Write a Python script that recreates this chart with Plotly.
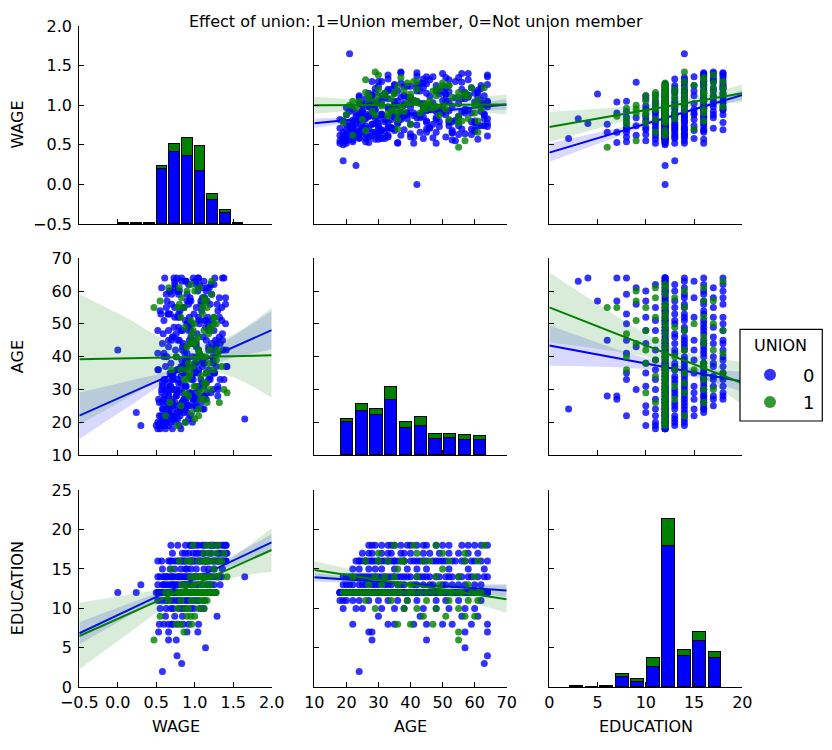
import plotly.graph_objects as go

# ---------------- data ----------------
VARS = ["WAGE", "AGE", "EDUCATION"]
TITLE = "Effect of union: 1=Union member, 0=Not union member"
LEGEND_TITLE = "UNION"
HUE_LABELS = ["0", "1"]

# Non-union members (UNION = 0), grouped by education level
EDU_0 = [2, 3, 4, 5, 6, 6, 7, 7, 7, 7, 8, 8, 8, 8, 8, 8, 9, 9, 9, 9,
         10, 10, 10, 10, 10, 10, 10, 11, 11, 11, 11, 11, 11, 11, 11, 11, 11,
         12, 12, 12, 12, 12, 12, 12, 12, 12, 12, 12, 12, 12, 12, 12, 12, 12, 12, 12, 12,
         12, 12, 12, 12, 12, 12, 12, 12, 12, 12, 12, 12, 12, 12, 12, 12, 12, 12, 12, 12,
         12, 12, 12, 12, 12, 12, 12, 12, 12, 12, 12, 12, 12, 12, 12, 12, 12, 12, 12, 12,
         12, 12, 12, 12, 12, 12, 12, 12, 12, 12, 12, 12, 12, 12, 12, 12, 12, 12, 12, 12,
         12, 12, 12, 12, 12, 12, 12, 12, 12, 12, 12, 12, 12, 12, 12,
         13, 13, 13, 13, 13, 13, 13, 13, 13, 13, 13, 13, 13, 13, 13, 13, 13, 13,
         14, 14, 14, 14, 14, 14, 14, 14, 14, 14, 14, 14, 14, 14, 14, 14, 14, 14, 14, 14, 14, 14, 14, 14,
         15, 15, 15, 15, 15, 15, 15, 15,
         16, 16, 16, 16, 16, 16, 16, 16, 16, 16, 16, 16, 16, 16, 16, 16, 16, 16, 16, 16,
         16, 16, 16, 16, 16, 16, 16, 16,
         17, 17, 17, 17, 17, 17, 17, 17, 17, 17,
         18, 18, 18, 18, 18, 18, 18, 18, 18, 18, 18, 18, 18, 18,
         8, 8, 8, 10, 10, 10, 10, 11, 11, 11, 11, 11,
         12, 12, 12, 12, 12, 12, 12, 12, 12, 12, 12, 12, 12, 12, 12, 12, 12, 12, 12, 12,
         12, 12, 12, 12, 12, 12, 12, 12, 12, 12, 12, 12, 12, 12, 12, 12, 12, 12, 12, 12,
         12, 12, 12, 12, 12, 12, 12, 12, 12, 12, 12, 12, 12, 12, 12,
         13, 13, 13, 13, 13, 13, 13, 13, 13, 13,
         14, 14, 14, 14, 14, 14, 14, 14, 14, 14, 14, 14, 14, 14, 14,
         15, 15, 15, 15,
         16, 16, 16, 16, 16, 16, 16, 16, 16, 16, 16, 16, 16, 16,
         17, 17, 17, 17, 17, 17,
         18, 18, 18, 18, 18, 18, 18]
AGE_0 = [24, 63, 64, 57, 45, 28, 27, 28, 57, 64, 22, 33, 35, 45, 53, 64, 30, 43, 56, 61,
         19, 25, 31, 38, 44, 52, 60, 18, 19, 22, 27, 33, 36, 42, 48, 55, 62,
         18, 18, 18, 19, 19, 19, 20, 20, 20, 20, 21, 21, 21, 22, 22, 22, 22, 23, 23, 23,
         23, 24, 24, 24, 24, 25, 25, 25, 26, 26, 26, 27, 27, 27, 28, 28, 28, 29, 29, 30,
         30, 30, 31, 31, 32, 32, 33, 33, 34, 34, 35, 35, 36, 36, 37, 37, 38, 38, 39, 40,
         40, 41, 42, 42, 43, 43, 44, 45, 45, 46, 47, 48, 48, 49, 50, 51, 51, 52, 53, 54,
         54, 55, 56, 57, 58, 59, 60, 60, 61, 62, 63, 63, 64, 64, 64,
         19, 20, 22, 24, 26, 28, 30, 32, 34, 36, 38, 41, 44, 47, 50, 53, 57, 62,
         21, 20, 22, 23, 25, 26, 28, 29, 31, 33, 34, 36, 38, 40, 42, 44, 46, 48, 51, 53, 56, 59, 61, 64,
         24, 27, 31, 35, 39, 45, 52, 58,
         23, 24, 25, 26, 27, 28, 29, 30, 31, 32, 33, 34, 35, 36, 37, 38, 40, 41, 43, 45,
         47, 49, 51, 54, 57, 59, 62, 64,
         25, 28, 31, 34, 37, 40, 44, 49, 55, 61,
         27, 29, 31, 33, 35, 37, 39, 42, 45, 48, 52, 56, 60, 64,
         41, 50, 59, 23, 35, 48, 57, 20, 24, 30, 39, 51,
         18, 19, 20, 21, 22, 23, 24, 25, 26, 27, 28, 29, 30, 31, 32, 33, 34, 35, 36, 37,
         38, 39, 40, 41, 42, 43, 44, 45, 46, 47, 48, 49, 50, 51, 52, 53, 54, 55, 56, 57,
         58, 59, 60, 61, 62, 63, 64, 20, 22, 24, 26, 29, 33, 37, 44,
         21, 25, 29, 33, 37, 42, 46, 51, 55, 60,
         19, 24, 27, 30, 32, 35, 37, 39, 43, 45, 49, 52, 55, 58, 63,
         22, 29, 42, 63,
         24, 26, 28, 30, 33, 35, 38, 42, 44, 48, 50, 53, 56, 60,
         27, 33, 38, 46, 52, 58,
         28, 34, 40, 44, 50, 58, 62]
WAGE_0 = [0.58, 0.83, 0.77, 1.14, 0.66, 0.76, 0.53, 0.66, 0.90, 1.04,
          0.54, 0.72, 0.85, 0.78, 0.66, 1.05, 0.62, 0.84, 1.29, 0.74,
          0.55, 0.72, 0.88, 1.12, 0.95, 0.80, 0.69,
          0.52, 0.61, 0.70, 0.86, 0.98, 0.78, 1.05, 0.92, 0.74, 1.02,
          0.55, 0.62, 0.71, 0.58, 0.66, 0.80, 0.52, 0.69, 0.75, 0.88,
          0.60, 0.73, 0.92, 0.56, 0.68, 0.81, 0.95, 0.24, 0.63, 0.77,
          0.90, 0.59, 0.72, 0.85, 1.02, 0.66, 0.79, 0.94, 0.54, 0.83,
          1.08, 0.70, 0.87, 0.99, 0.61, 0.76, 1.12, 0.84, 0.93, 0.57,
          0.74, 1.05, 0.68, 0.89, 0.79, 1.15, 0.62, 0.96, 0.72, 1.20,
          0.86, 1.01, 0.53, 0.77, 0.91, 1.10, 0.69, 1.24, 0.83, 0.97,
          0.64, 1.06, 0.00, 0.75, 0.88, 1.18, 0.58, 0.93, 1.27, 0.71,
          1.03, 0.82, 0.66, 1.14, 0.90, 0.60, 1.22, 0.78, 0.99, 0.55,
          1.09, 0.85, 0.70, 1.16, 0.94, 0.63, 1.04, 0.80, 0.57, 0.92,
          1.12, 0.74, 0.61, 0.98, 1.26,
          0.30, 0.62, 0.74, 0.85, 0.58, 0.97, 0.70, 1.10, 0.82, 0.52, 1.02, 0.90, 1.33, 0.76,
          1.18, 0.65, 0.95, 1.21,
          1.65, 0.55, 0.68, 0.80, 0.92, 0.63, 1.05, 0.77, 0.88, 1.20, 0.71, 0.99, 1.12, 0.60,
          0.84, 1.28, 0.95, 0.52, 1.35, 0.79, 1.08, 0.90, 1.16, 0.73,
          0.82, 1.02, 0.58, 1.25, 0.90, 1.36, 0.74, 1.12,
          0.66, 0.88, 1.02, 0.74, 1.15, 0.92, 0.57, 1.24, 1.05, 0.82, 1.33, 0.96, 0.70, 1.18,
          1.41, 0.87, 1.09, 0.52, 1.27, 0.98, 1.36, 0.79, 1.14, 1.30, 0.93, 1.22, 1.06, 1.38,
          0.84, 1.12, 1.30, 0.71, 1.42, 1.02, 1.22, 0.92, 1.35, 1.10,
          0.98, 1.21, 0.69, 1.38, 1.05, 1.28, 0.88, 1.41, 1.15, 0.95, 1.32, 1.20, 0.78, 1.36,
          0.60, 0.92, 0.70, 0.63, 0.99, 0.84, 1.08, 0.57, 0.81, 0.65, 0.90, 1.13,
          0.82, 0.50, 0.63, 0.78, 0.61, 0.86, 0.67, 1.00, 0.71, 0.60,
          0.95, 0.66, 0.82, 1.12, 0.58, 0.78, 0.93, 0.68, 1.05, 0.62,
          0.89, 1.10, 0.76, 0.87, 1.21, 0.66, 1.00, 0.80, 1.11, 0.59,
          1.25, 0.73, 1.06, 0.88, 1.17, 0.56, 0.81, 1.02, 0.92, 0.64,
          1.13, 0.79, 0.67, 1.19, 0.74, 0.89, 0.83, 0.97, 0.74, 0.64,
          0.89, 1.01, 0.71, 0.84, 1.00,
          0.68, 0.90, 1.16, 0.60, 0.88, 1.25, 0.72, 1.05, 0.86, 0.78,
          0.60, 1.10, 0.86, 1.30, 0.65, 1.15, 0.82, 1.24, 1.02, 0.70, 1.18, 0.93, 0.63, 1.32, 1.00,
          0.68, 0.95, 1.18, 0.88,
          1.12, 0.84, 1.30, 0.77, 1.08, 1.26, 1.00, 1.37, 0.85, 1.18, 0.96, 0.68, 1.40, 1.15,
          0.98, 1.18, 0.88, 1.32, 1.05, 1.40,
          1.12, 0.94, 1.24, 1.02, 1.40, 1.10, 1.25]

# Union members (UNION = 1)
EDU_1 = [6, 7, 8, 8, 9, 9, 9, 10, 10, 10, 11, 11, 11, 11, 11,
         12, 12, 12, 12, 12, 12, 12, 12, 12, 12, 12, 12, 12, 12, 12, 12, 12, 12, 12, 12, 12, 12,
         13, 13, 13, 14, 14, 14, 14, 14, 15, 15, 16, 16, 16, 16, 16, 16, 17, 17, 17, 18, 18, 18,
         8, 9, 10, 10, 11, 11, 12, 12, 12, 12, 12, 12, 12, 12, 12, 12, 12, 12,
         13, 13, 13, 14, 14, 14, 16, 16, 16, 16, 17, 18]
AGE_1 = [55, 55, 47, 36, 44, 57, 60, 42, 38, 55, 26, 34, 45, 52, 61,
         19, 20, 22, 23, 24, 25, 27, 28, 30, 31, 33, 35, 37, 39, 41, 43, 47, 50, 53, 56, 59, 62,
         31, 40, 58, 22, 29, 35, 48, 55, 36, 50, 26, 33, 38, 46, 52, 61, 30, 42, 57, 35, 48, 63,
         40, 51, 29, 48, 39, 58, 21, 26, 29, 32, 34, 36, 40, 45, 49, 52, 55, 61,
         27, 36, 49, 32, 42, 60, 30, 37, 44, 57, 50, 41]
WAGE_1 = [0.47, 0.86, 0.96, 0.82, 1.00, 0.55, 0.90, 1.05, 0.92, 0.78,
          1.16, 1.08, 0.95, 0.82, 0.66,
          0.78, 0.88, 0.62, 0.96, 1.05, 0.82, 1.12, 0.92, 1.20, 1.01, 0.86, 1.15, 0.97, 1.28,
          1.06, 0.90, 1.18, 0.99, 1.10, 0.80, 1.22, 0.95,
          0.99, 1.14, 0.83, 1.05, 1.42, 0.94, 1.21, 1.10, 0.70, 1.25,
          1.32, 0.90, 1.18, 1.05, 1.25, 0.80, 1.38, 1.20, 1.12, 1.15, 0.98, 1.22,
          0.76, 0.95, 0.88, 1.12, 1.02, 1.12,
          1.00, 0.68, 1.06, 1.12, 0.93, 1.24, 1.10, 1.02, 0.87, 1.25, 1.16, 1.06,
          1.08, 0.90, 1.20, 1.15, 1.30, 1.00, 1.12, 1.35, 0.95, 1.15, 1.28, 1.30]

# Diagonal histograms (stacked counts)
WAGE_BIN_START, WAGE_BIN_WIDTH = 0.0, 0.165
WAGE_HIST_0 = [1, 1, 1, 84, 109, 103, 81, 36, 16, 2]
WAGE_HIST_1 = [0, 0, 0, 4, 12, 28, 37, 10, 5, 0]
AGE_BIN_START, AGE_BIN_WIDTH = 18.0, 4.6
AGE_HIST_0 = [50, 66, 60, 83, 41, 44, 24, 26, 23, 22]
AGE_HIST_1 = [4, 11, 10, 21, 9, 14, 8, 6, 7, 6]
EDU_BIN_START, EDU_BIN_WIDTH = 2.0, 1.6
EDU_HIST_0 = [2, 1, 2, 16, 8, 31, 215, 47, 71, 44]
EDU_HIST_1 = [0, 0, 0, 4, 5, 13, 41, 9, 13, 10]
HIST_MAX_COUNT = 300

# Regression lines (value at left / right axis limit) and confidence bands
BAND_X_WAGE = [-0.5, 0.125, 0.75, 1.375, 2.0]
BAND_X_AGE = [10, 25, 40, 55, 70]
BAND_X_EDU = [0, 5, 10, 15, 20]

WAGE_AGE_LINE_0 = [0.771, 1.010]
WAGE_AGE_LO_0 = [0.711, 0.801, 0.870, 0.912, 0.942]
WAGE_AGE_HI_0 = [0.831, 0.861, 0.910, 0.988, 1.078]
WAGE_AGE_LINE_1 = [1.000, 1.010]
WAGE_AGE_LO_1 = [0.893, 0.940, 0.964, 0.933, 0.885]
WAGE_AGE_HI_1 = [1.107, 1.066, 1.046, 1.083, 1.135]

WAGE_EDU_LINE_0 = [0.401, 1.129]
WAGE_EDU_LO_0 = [0.286, 0.511, 0.735, 0.924, 1.065]
WAGE_EDU_HI_0 = [0.516, 0.655, 0.795, 0.970, 1.193]
WAGE_EDU_LINE_1 = [0.725, 1.150]
WAGE_EDU_LO_1 = [0.535, 0.707, 0.869, 0.983, 1.038]
WAGE_EDU_HI_1 = [0.915, 0.955, 1.007, 1.105, 1.262]

AGE_WAGE_LINE_0 = [22.0, 48.1]
AGE_WAGE_LO_0 = [14.9, 24.5, 33.75, 38.8, 42.2]
AGE_WAGE_HI_0 = [29.1, 32.5, 36.35, 44.4, 54.0]
AGE_WAGE_LINE_1 = [39.2, 40.4]
AGE_WAGE_LO_1 = [19.3, 27.3, 35.5, 34.8, 27.5]
AGE_WAGE_HI_1 = [59.1, 51.7, 44.1, 45.4, 55.0]

AGE_EDU_LINE_0 = [43.4, 32.4]
AGE_EDU_LO_0 = [37.2, 36.95, 36.2, 33.75, 29.35]
AGE_EDU_HI_0 = [49.6, 44.35, 39.6, 36.55, 35.45]
AGE_EDU_LINE_1 = [55.05, 31.9]
AGE_EDU_LO_1 = [44.4, 42.36, 39.98, 34.79, 25.3]
AGE_EDU_HI_1 = [65.7, 56.16, 46.98, 40.59, 38.5]

EDU_WAGE_LINE_0 = [6.84, 18.37]
EDU_WAGE_LO_0 = [5.44, 8.9, 12.315, 14.94, 17.32]
EDU_WAGE_HI_0 = [8.24, 10.54, 12.895, 16.04, 19.42]
EDU_WAGE_LINE_1 = [6.5, 17.4]
EDU_WAGE_LO_1 = [2.3, 6.725, 11.03, 13.575, 14.63]
EDU_WAGE_HI_1 = [10.7, 11.725, 12.87, 15.775, 20.17]

EDU_AGE_LINE_0 = [13.94, 12.25]
EDU_AGE_LO_0 = [13.39, 13.1875, 12.845, 12.2425, 11.45]
EDU_AGE_HI_0 = [14.49, 13.8475, 13.345, 13.1025, 13.05]
EDU_AGE_LINE_1 = [14.86, 11.15]
EDU_AGE_LO_1 = [13.72, 13.23, 12.515, 11.1775, 9.4]
EDU_AGE_HI_1 = [16.0, 14.63, 13.495, 12.9775, 12.9]

# Axis ranges and ticks
RANGES = {"WAGE": [-0.5, 2.0], "AGE": [10, 70], "EDUCATION": [0, 20]}
ROW_RANGES = {"WAGE": [-0.5, 2.0], "AGE": [10, 70], "EDUCATION": [0, 25]}
X_TICKS = {"WAGE": [-0.5, 0.0, 0.5, 1.0, 1.5, 2.0], "AGE": [10, 20, 30, 40, 50, 60, 70],
           "EDUCATION": [0, 5, 10, 15, 20]}
X_TICKTEXT = {"WAGE": ["\u22120.5", "0.0", "0.5", "1.0", "1.5", "2.0"],
              "AGE": ["10", "20", "30", "40", "50", "60", "70"],
              "EDUCATION": ["0", "5", "10", "15", "20"]}
Y_TICKS = {"WAGE": [-0.5, 0.0, 0.5, 1.0, 1.5, 2.0], "AGE": [10, 20, 30, 40, 50, 60, 70],
           "EDUCATION": [0, 5, 10, 15, 20, 25]}
Y_TICKTEXT = {"WAGE": ["\u22120.5", "0.0", "0.5", "1.0", "1.5", "2.0"],
              "AGE": ["10", "20", "30", "40", "50", "60", "70"],
              "EDUCATION": ["0", "5", "10", "15", "20", "25"]}

# ---------------- figure ----------------
W, H = 832, 750
FONT = "DejaVu Sans"
COLORS = ["#0000ff", "#008000"]
BAND_COLORS = ["rgba(0,0,255,0.15)", "rgba(0,128,0,0.15)"]
COL_PX = [(79.3, 271.7), (314.3, 506.7), (549.3, 742.3)]
ROW_PX = [(26.0, 224.0), (258.3, 455.0), (490.0, 687.3)]
LEGEND_BOX_PX = (740.0, 329.3, 822.3, 421.0)

DATA = [{"WAGE": WAGE_0, "AGE": AGE_0, "EDUCATION": EDU_0},
        {"WAGE": WAGE_1, "AGE": AGE_1, "EDUCATION": EDU_1}]
BAND_X = {"WAGE": BAND_X_WAGE, "AGE": BAND_X_AGE, "EDUCATION": BAND_X_EDU}
REG = {
    (0, 1): [(WAGE_AGE_LINE_0, WAGE_AGE_LO_0, WAGE_AGE_HI_0), (WAGE_AGE_LINE_1, WAGE_AGE_LO_1, WAGE_AGE_HI_1)],
    (0, 2): [(WAGE_EDU_LINE_0, WAGE_EDU_LO_0, WAGE_EDU_HI_0), (WAGE_EDU_LINE_1, WAGE_EDU_LO_1, WAGE_EDU_HI_1)],
    (1, 0): [(AGE_WAGE_LINE_0, AGE_WAGE_LO_0, AGE_WAGE_HI_0), (AGE_WAGE_LINE_1, AGE_WAGE_LO_1, AGE_WAGE_HI_1)],
    (1, 2): [(AGE_EDU_LINE_0, AGE_EDU_LO_0, AGE_EDU_HI_0), (AGE_EDU_LINE_1, AGE_EDU_LO_1, AGE_EDU_HI_1)],
    (2, 0): [(EDU_WAGE_LINE_0, EDU_WAGE_LO_0, EDU_WAGE_HI_0), (EDU_WAGE_LINE_1, EDU_WAGE_LO_1, EDU_WAGE_HI_1)],
    (2, 1): [(EDU_AGE_LINE_0, EDU_AGE_LO_0, EDU_AGE_HI_0), (EDU_AGE_LINE_1, EDU_AGE_LO_1, EDU_AGE_HI_1)],
}
HISTS = {
    0: (WAGE_BIN_START, WAGE_BIN_WIDTH, WAGE_HIST_0, WAGE_HIST_1),
    1: (AGE_BIN_START, AGE_BIN_WIDTH, AGE_HIST_0, AGE_HIST_1),
    2: (EDU_BIN_START, EDU_BIN_WIDTH, EDU_HIST_0, EDU_HIST_1),
}

fig = go.Figure()
layout = {}


def ax_name(k, letter):
    return letter if k == 1 else f"{letter}{k}"


tick_font = dict(family=FONT, size=16, color="black")
for r in range(3):
    for c in range(3):
        k = r * 3 + c + 1
        xv, yv = VARS[c], VARS[r]
        xdom = [COL_PX[c][0] / W, COL_PX[c][1] / W]
        ydom = [1 - ROW_PX[r][1] / H, 1 - ROW_PX[r][0] / H]
        layout[f"xaxis{'' if k == 1 else k}"] = dict(
            domain=xdom, anchor=ax_name(k, "y"), automargin=False,
            range=RANGES[xv], tickvals=X_TICKS[xv], ticktext=X_TICKTEXT[xv],
            showticklabels=(r == 2), ticks="inside", ticklen=5, tickwidth=1, tickcolor="black",
            showline=True, linecolor="black", linewidth=1.3, showgrid=False, zeroline=False,
            tickfont=tick_font, ticklabelstandoff=0)
        layout[f"yaxis{'' if k == 1 else k}"] = dict(
            domain=ydom, anchor=ax_name(k, "x"), automargin=False,
            range=ROW_RANGES[yv], tickvals=Y_TICKS[yv], ticktext=Y_TICKTEXT[yv],
            showticklabels=(c == 0), ticks="inside", ticklen=5, tickwidth=1, tickcolor="black",
            showline=True, linecolor="black", linewidth=1.3, showgrid=False, zeroline=False,
            tickfont=tick_font, ticklabelstandoff=3)

        if r == c:
            # empty trace so the shared row/column axes of this cell are drawn
            fig.add_trace(go.Scatter(x=[], y=[], mode="markers", xaxis=ax_name(k, "x"),
                                     yaxis=ax_name(k, "y"), showlegend=False, hoverinfo="skip"))
            start, width, h0, h1 = HISTS[r]
            centers = [start + (i + 0.5) * width for i in range(len(h0))]
            hy = f"y{10 + r}"
            layout[f"yaxis{10 + r}"] = dict(
                overlaying=ax_name(k, "y"), anchor=ax_name(k, "x"), domain=ydom,
                automargin=False, range=[0, HIST_MAX_COUNT], showticklabels=False,
                ticks="", showline=False, showgrid=False, zeroline=False, side="right")
            for hue, counts in enumerate([h0, h1]):
                fig.add_trace(go.Bar(x=centers, y=counts, width=[0.84 * width] * len(counts),
                                     marker=dict(color=COLORS[hue], line=dict(color="black", width=1)),
                                     xaxis=ax_name(k, "x"), yaxis=hy, showlegend=False))
            continue

        bx = BAND_X[xv]
        for hue in range(2):
            d = DATA[hue]
            fig.add_trace(go.Scatter(
                x=d[xv], y=d[yv], mode="markers",
                marker=dict(color=COLORS[hue], size=7, opacity=0.8, line=dict(width=0)),
                xaxis=ax_name(k, "x"), yaxis=ax_name(k, "y"),
                name=HUE_LABELS[hue], legendgroup=HUE_LABELS[hue],
                showlegend=(r == 0 and c == 1)))
            line, lo, hi = REG[(r, c)][hue]
            fig.add_trace(go.Scatter(x=bx, y=lo, mode="lines", line=dict(width=0, shape="spline"),
                                     xaxis=ax_name(k, "x"), yaxis=ax_name(k, "y"),
                                     showlegend=False, hoverinfo="skip"))
            fig.add_trace(go.Scatter(x=bx, y=hi, mode="lines", line=dict(width=0, shape="spline"),
                                     fill="tonexty", fillcolor=BAND_COLORS[hue],
                                     xaxis=ax_name(k, "x"), yaxis=ax_name(k, "y"),
                                     showlegend=False, hoverinfo="skip"))
            fig.add_trace(go.Scatter(x=RANGES[xv], y=line, mode="lines",
                                     line=dict(color=COLORS[hue], width=2),
                                     xaxis=ax_name(k, "x"), yaxis=ax_name(k, "y"),
                                     showlegend=False, hoverinfo="skip"))

annotations = [dict(text=TITLE, x=415.5 / W, y=1 - 22 / H, xref="paper", yref="paper",
                    showarrow=False, xanchor="center", yanchor="middle",
                    font=dict(family=FONT, size=16, color="black"))]
for i, v in enumerate(VARS):
    annotations.append(dict(text=v, x=17.5 / W, y=1 - (ROW_PX[i][0] + ROW_PX[i][1]) / 2 / H,
                            xref="paper", yref="paper", showarrow=False, textangle=-90,
                            xanchor="center", yanchor="middle",
                            font=dict(family=FONT, size=16, color="black")))
    annotations.append(dict(text=v, x=(COL_PX[i][0] + COL_PX[i][1]) / 2 / W, y=1 - 726 / H,
                            xref="paper", yref="paper", showarrow=False,
                            xanchor="center", yanchor="middle",
                            font=dict(family=FONT, size=16, color="black")))
# legend title (legend box drawn as a layout shape)
annotations.append(dict(text=LEGEND_TITLE, x=780.7 / W, y=1 - 345.8 / H, xref="paper", yref="paper",
                        showarrow=False, xanchor="center", yanchor="middle",
                        font=dict(family=FONT, size=16, color="black")))

shapes = [dict(type="rect", xref="paper", yref="paper",
               x0=LEGEND_BOX_PX[0] / W, x1=LEGEND_BOX_PX[2] / W,
               y0=1 - LEGEND_BOX_PX[3] / H, y1=1 - LEGEND_BOX_PX[1] / H,
               line=dict(color="black", width=1.2), fillcolor="white", layer="above")]

fig.update_layout(
    template="none",
    width=W, height=H, margin=dict(l=0, r=0, t=0, b=0, autoexpand=False),
    paper_bgcolor="white", plot_bgcolor="rgba(0,0,0,0)",
    barmode="stack", bargap=0,
    font=dict(family=FONT, color="black"),
    annotations=annotations, shapes=shapes,
    legend=dict(x=737 / W, y=1 - 356.5 / H, xanchor="left", yanchor="top",
                borderwidth=0, bgcolor="rgba(0,0,0,0)",
                font=dict(family=FONT, size=18, color="black"),
                itemsizing="constant", itemwidth=56, tracegroupgap=1),
    **layout,
)

fig.write_html("out.html", config={"displayModeBar": False},
               post_script="document.body.style.margin='0px';")
